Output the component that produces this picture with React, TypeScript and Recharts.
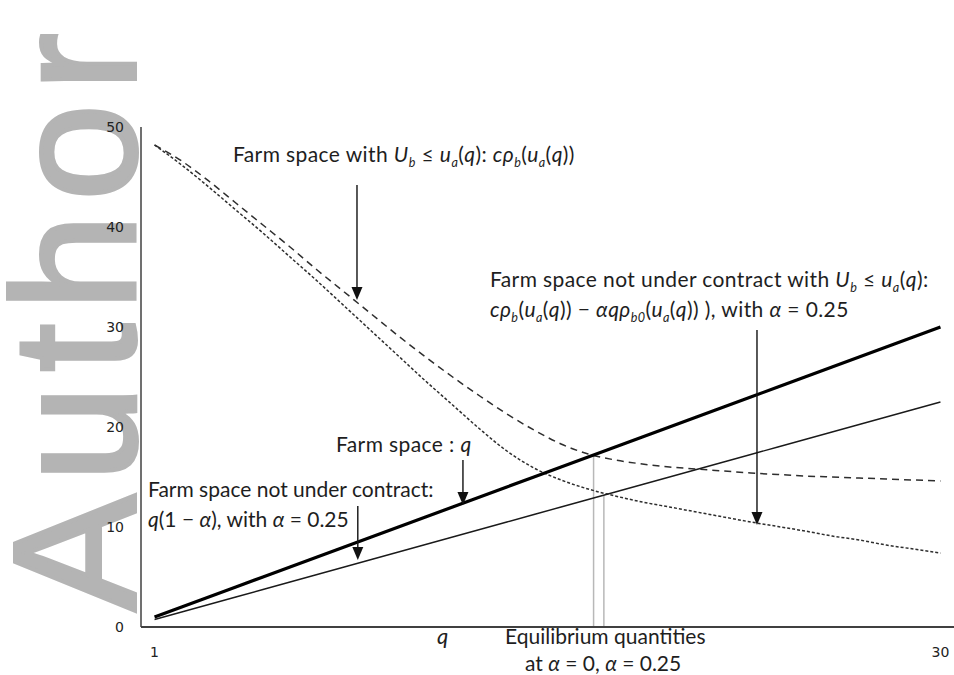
import React from 'react';
import { LineChart, Line, XAxis, YAxis, ReferenceLine } from 'recharts';

// q = 1..30
const quantities = [
  1, 2, 3, 4, 5, 6, 7, 8, 9, 10, 11, 12, 13, 14, 15,
  16, 17, 18, 19, 20, 21, 22, 23, 24, 25, 26, 27, 28, 29, 30,
];
// farm space: q
const farmSpace = [
  1, 2, 3, 4, 5, 6, 7, 8, 9, 10, 11, 12, 13, 14, 15,
  16, 17, 18, 19, 20, 21, 22, 23, 24, 25, 26, 27, 28, 29, 30,
];
// farm space not under contract: q(1 - alpha), alpha = 0.25
const notUnderContract = [
  0.75, 1.5, 2.25, 3, 3.75, 4.5, 5.25, 6, 6.75, 7.5, 8.25, 9, 9.75, 10.5, 11.25,
  12, 12.75, 13.5, 14.25, 15, 15.75, 16.5, 17.25, 18, 18.75, 19.5, 20.25, 21, 21.75, 22.5,
];
// c * rho_b(u_a(q))  (dashed)
const spaceWithUb = [
  48.2, 46.6, 44.6, 42.4, 40.2, 38.0, 35.7, 33.5, 31.3, 29.1, 27.0, 25.0, 23.1, 21.3, 19.7,
  18.3, 17.3, 16.7, 16.3, 16.0, 15.8, 15.6, 15.4, 15.25, 15.1, 15.0, 14.9, 14.8, 14.7, 14.6,
];
// not under contract with U_b <= u_a(q)  (dotted)
const notUnderContractWithUb = [
  48.2, 46.2, 44.0, 41.7, 39.4, 37.0, 34.6, 32.1, 29.6, 27.1, 24.6, 22.2, 19.8, 17.6, 15.9,
  14.7, 13.8, 13.1, 12.5, 12.0, 11.5, 11.0, 10.5, 10.05, 9.6, 9.1, 8.7, 8.2, 7.8, 7.4,
];

const yTicks = [0, 10, 20, 30, 40, 50];
const xTicks = [1, 30];

// equilibrium quantities (alpha = 0, alpha = 0.25) and their heights
const eqQ = [17.2, 17.58];
const eqV = [17.2, 13.2];

// annotation arrows [q, from, to]
const arrows: [number, number, number][] = [
  [8.47, 44.2, 32.7],
  [23.23, 29.7, 10.2],
  [12.38, 16.7, 12.2],
  [8.5, 12.1, 6.7],
];

const data = quantities.map((q, i) => ({
  q,
  farm: farmSpace[i],
  nuc: notUnderContract[i],
  ub: spaceWithUb[i],
  nucUb: notUnderContractWithUb[i],
}));

type Seg = [string, 'n' | 'i' | 's'];

const RichText = ({
  x,
  y,
  segs,
  size = 21,
  spacing = 0.4,
}: {
  x: number;
  y: number;
  segs: Seg[];
  size?: number;
  spacing?: number;
}) => {
  let shifted = false;
  return (
    <text x={x} y={y} fontSize={size} fontFamily="Lato" fill="#1e1e1e" letterSpacing={spacing}>
      {segs.map(([t, k], i) => {
        let dy: number | undefined;
        if (k === 's' && !shifted) {
          dy = size * 0.22;
          shifted = true;
        } else if (k !== 's' && shifted) {
          dy = -size * 0.22;
          shifted = false;
        }
        return (
          <tspan
            key={i}
            dy={dy}
            fontStyle={k === 'n' ? 'normal' : 'italic'}
            fontSize={k === 's' ? size * 0.6 : size}
          >
            {t}
          </tspan>
        );
      })}
    </text>
  );
};

const YTick = (props: any) => {
  const { y, payload } = props;
  return (
    <text x={124} y={y} dy={5} textAnchor="end" fontSize={14} fontFamily="DejaVu Sans" fill="#222">
      {payload.value}
    </text>
  );
};

const XTick = (props: any) => {
  const { x, payload } = props;
  return (
    <text x={x} y={657} textAnchor="middle" fontSize={14} fontFamily="DejaVu Sans" fill="#222">
      {payload.value}
    </text>
  );
};

const ArrowShape = (props: any) => {
  const { x1, y1, x2, y2 } = props;
  const head = 13;
  return (
    <g>
      <line x1={x1} y1={y1} x2={x2} y2={y2 - head + 1} stroke="#111" strokeWidth={1.4} />
      <polygon points={`${x2 - 5.5},${y2 - head} ${x2 + 5.5},${y2 - head} ${x2},${y2}`} fill="#111" />
    </g>
  );
};

const App = () => {
  return (
    <div style={{ position: 'fixed', left: 0, top: 0, width: 954, height: 675, background: '#fff' }}>
      {/* watermark */}
      <svg width={954} height={675} style={{ position: 'absolute', left: 0, top: 0 }}>
        <text
          x={0}
          y={0}
          transform="translate(135,611) rotate(-90)"
          fontFamily="Liberation Sans"
          fontSize={174}
          fill="#b4b4b4"
          stroke="#b4b4b4"
          strokeWidth={4}
          textLength={578}
          lengthAdjust="spacing"
        >
          Author
        </text>
      </svg>
      <div style={{ position: 'absolute', left: 0, top: 0 }}>
        <LineChart
          width={954}
          height={675}
          data={data}
          margin={{ top: 127, right: 0, bottom: 0, left: 0 }}
        >
          <XAxis
            dataKey="q"
            type="number"
            domain={[0.5, 30.5]}
            ticks={xTicks}
            height={48}
            axisLine={{ stroke: '#404040', strokeWidth: 2 }}
            tickLine={false}
            tick={<XTick />}
            allowDataOverflow
          />
          <YAxis
            type="number"
            domain={[0, 50]}
            ticks={yTicks}
            width={141}
            axisLine={{ stroke: '#404040', strokeWidth: 1.5 }}
            tickLine={false}
            tick={<YTick />}
          />
          {eqQ.map((q, i) => (
            <ReferenceLine
              key={'eq' + i}
              segment={[{ x: q, y: 0 }, { x: q, y: eqV[i] }]}
              stroke="#b8b8b8"
              strokeWidth={1.5}
            />
          ))}
          <Line dataKey="ub" type="monotone" stroke="#2e2e2e" strokeWidth={1.5} strokeDasharray="7 5" dot={false} isAnimationActive={false} />
          <Line dataKey="nucUb" type="monotone" stroke="#2e2e2e" strokeWidth={1.5} strokeDasharray="3 2" dot={false} isAnimationActive={false} />
          <Line dataKey="nuc" type="linear" stroke="#1a1a1a" strokeWidth={1.4} dot={false} isAnimationActive={false} />
          <Line dataKey="farm" type="linear" stroke="#000" strokeWidth={3.2} dot={false} isAnimationActive={false} />
          {arrows.map(([q, a, b], i) => (
            <ReferenceLine
              key={'ar' + i}
              segment={[{ x: q, y: a }, { x: q, y: b }]}
              shape={ArrowShape}
            />
          ))}
        </LineChart>
      </div>
      {/* annotation text */}
      <svg width={954} height={675} style={{ position: 'absolute', left: 0, top: 0, pointerEvents: 'none' }}>
        <RichText
          x={233}
          y={162}
          segs={[
            ['Farm space with ', 'n'], ['U', 'i'], ['b', 's'], [' \u2264 ', 'n'], ['u', 'i'], ['a', 's'],
            ['(', 'n'], ['q', 'i'], ['): ', 'n'], ['c\u03c1', 'i'], ['b', 's'], ['(', 'n'], ['u', 'i'], ['a', 's'],
            ['(', 'n'], ['q', 'i'], ['))', 'n'],
          ]}
        />
        <RichText
          x={490}
          y={287}
          segs={[
            ['Farm space not under contract with ', 'n'], ['U', 'i'], ['b', 's'], [' \u2264 ', 'n'], ['u', 'i'], ['a', 's'],
            ['(', 'n'], ['q', 'i'], ['):', 'n'],
          ]}
        />
        <RichText
          x={490}
          y={317}
          segs={[
            ['c\u03c1', 'i'], ['b', 's'], ['(', 'n'], ['u', 'i'], ['a', 's'], ['(', 'n'], ['q', 'i'], [')) \u2212 ', 'n'],
            ['\u03b1q\u03c1', 'i'], ['b0', 's'], ['(', 'n'], ['u', 'i'], ['a', 's'], ['(', 'n'], ['q', 'i'],
            [')) ), with ', 'n'], ['\u03b1', 'i'], [' = 0.25', 'n'],
          ]}
        />
        <RichText x={336} y={452} segs={[['Farm space : ', 'n'], ['q', 'i']]} />
        <RichText x={148} y={497} spacing={0} segs={[['Farm space not under contract:', 'n']]} />
        <RichText
          x={148}
          y={527}
          spacing={0}
          segs={[['q', 'i'], ['(1 \u2212 ', 'n'], ['\u03b1', 'i'], ['), with ', 'n'], ['\u03b1', 'i'], [' = 0.25', 'n']]}
        />
        <RichText x={437} y={644} size={22} segs={[['q', 'i']]} />
        <RichText x={505} y={644} spacing={0} segs={[['Equilibrium quantities', 'n']]} />
        <RichText
          x={525}
          y={671}
          spacing={0}
          segs={[['at ', 'n'], ['\u03b1', 'i'], [' = 0, ', 'n'], ['\u03b1', 'i'], [' = 0.25', 'n']]}
        />
      </svg>
    </div>
  );
};

export default App;
